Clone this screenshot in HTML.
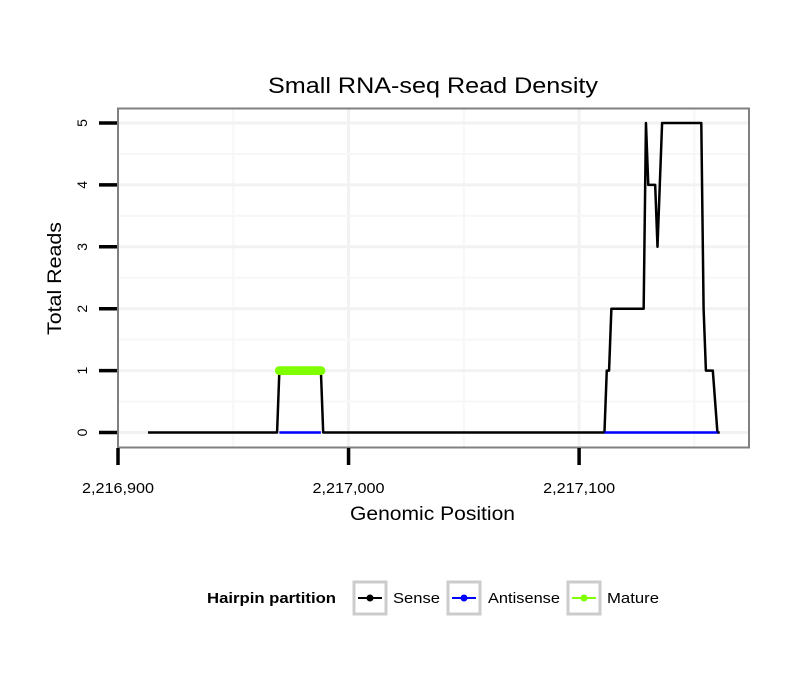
<!DOCTYPE html>
<html><head><meta charset="utf-8"><style>
body{margin:0;background:#fff;}
svg text{font-family:"Liberation Sans",Arial,sans-serif;}
</style></head><body>
<svg width="810" height="690" viewBox="0 0 810 690">
<rect x="0" y="0" width="810" height="690" fill="#fff"/>
<text x="268" y="93" font-size="22" textLength="330" lengthAdjust="spacingAndGlyphs">Small RNA-seq Read Density</text>
<g id="grid"></g>
<g id="series"></g>
<rect x="118" y="108.5" width="631" height="339" fill="none" stroke="#808080" stroke-width="2"/>
<g id="axes"></g>
<text x="350" y="520" font-size="19" textLength="165" lengthAdjust="spacingAndGlyphs">Genomic Position</text>
<text transform="translate(61,335) rotate(-90)" font-size="19" textLength="113" lengthAdjust="spacingAndGlyphs">Total Reads</text>
<g>
<text x="207" y="603" font-size="15" font-weight="bold" textLength="129" lengthAdjust="spacingAndGlyphs">Hairpin partition</text>
<g>
<rect x="354" y="582" width="32" height="32" fill="#fff" stroke="#ccc" stroke-width="3"/>
<line x1="358" y1="598" x2="382" y2="598" stroke="#000" stroke-width="2"/><circle cx="370" cy="598" r="3.5" fill="#000"/>
<text x="393" y="603" font-size="15" textLength="47" lengthAdjust="spacingAndGlyphs">Sense</text></g>
<g>
<rect x="448" y="582" width="32" height="32" fill="#fff" stroke="#ccc" stroke-width="3"/>
<line x1="452" y1="598" x2="476" y2="598" stroke="#0000ff" stroke-width="2"/><circle cx="464" cy="598" r="3.5" fill="#0000ff"/>
<text x="488" y="603" font-size="15" textLength="72" lengthAdjust="spacingAndGlyphs">Antisense</text></g>
<g>
<rect x="568" y="582" width="32" height="32" fill="#fff" stroke="#ccc" stroke-width="3"/>
<line x1="572" y1="598" x2="596" y2="598" stroke="#7fff00" stroke-width="2"/><circle cx="584" cy="598" r="3.5" fill="#7fff00"/>
<text x="607" y="603" font-size="15" textLength="52" lengthAdjust="spacingAndGlyphs">Mature</text></g>
</g>
</svg>
<script>
const xTicks=[2216900,2217000,2217100];
const xTickLabels=["2,216,900","2,217,000","2,217,100"];
const yTicks=[0,1,2,3,4,5];
const senseX=[2216913,2216969,2216970,2216988,2216989,2217111,2217112,2217113,2217114,2217128,2217129,2217130,2217131,2217133,2217134,2217136,2217153,2217154,2217155,2217158,2217160,2217161];
const senseY=[0,0,1,1,0,0,1,1,2,2,5,4,4,4,3,5,5,2,1,1,0,0];
const antiX=[2216970,2216988,2217111,2217160];
const antiY=[0,0,0,0];
const matureX=[2216970,2216971,2216972,2216973,2216974,2216975,2216976,2216977,2216978,2216979,2216980,2216981,2216982,2216983,2216984,2216985,2216986,2216987,2216988];
const matureY=[1,1,1,1,1,1,1,1,1,1,1,1,1,1,1,1,1,1,1];
const NS="http://www.w3.org/2000/svg";
function sx(v){return 118+(v-2216900)*2.3055;}
function sy(v){return 432.5-v*61.9;}
function mk(tag,attrs,parent){const e=document.createElementNS(NS,tag);for(const k in attrs)e.setAttribute(k,attrs[k]);parent.appendChild(e);return e;}
const grid=document.getElementById('grid'),series=document.getElementById('series'),axes=document.getElementById('axes');
for(let v=2216850;v<=2217200;v+=50){const x=sx(v);if(x<=119||x>=748)continue;
 const l=mk('line',{x1:x,x2:x,y1:109,y2:447,stroke:(v%100===0)?'#f2f2f2':'#f7f7f7','stroke-width':(v%100===0)?3:2},grid);
 
 }
for(let v=-0.5;v<=5.5;v+=0.5){const y=sy(v);if(y<=109||y>=447)continue;
 const l=mk('line',{x1:118,x2:749,y1:y,y2:y,stroke:(v%1===0)?'#f2f2f2':'#f7f7f7','stroke-width':(v%1===0)?3:2},grid);
 
 }
function line(xs,ys,color,name){const pts=xs.map((x,i)=>sx(x)+','+sy(ys[i])).join(' ');
 const p=mk('polyline',{points:pts,fill:'none',stroke:color,'stroke-width':2.5,'stroke-linejoin':'round'},series);
 
 }
line(senseX,senseY,'#000','sense-line');
line([antiX[0],antiX[1]],[antiY[0],antiY[1]],'#0000ff','antisense-line-1');
line([antiX[2],antiX[3]],[antiY[2],antiY[3]],'#0000ff','antisense-line-2');
line(matureX,matureY,'#7fff00','mature-line');
matureX.forEach((x,i)=>{const c=mk('circle',{cx:sx(x),cy:sy(matureY[i]),r:4.5,fill:'#7fff00'},series);
 
 });
xTicks.forEach((v,i)=>{const x=sx(v);
 const t=mk('line',{x1:x,x2:x,y1:448,y2:465,stroke:'#000','stroke-width':3.5},axes);
 
 
 const tx=mk('text',{x:x,y:493,'font-size':15,'text-anchor':'middle',textLength:72,lengthAdjust:'spacingAndGlyphs'},axes);tx.textContent=xTickLabels[i];
 
 });
yTicks.forEach(v=>{const y=sy(v);
 const t=mk('line',{x1:99,x2:117,y1:y,y2:y,stroke:'#000','stroke-width':3.5},axes);
 
 
 const tx=mk('text',{transform:`translate(87,${y}) rotate(-90)`,'font-size':14,'text-anchor':'middle'},axes);tx.textContent=v;
 
 });
</script>
</body></html>
